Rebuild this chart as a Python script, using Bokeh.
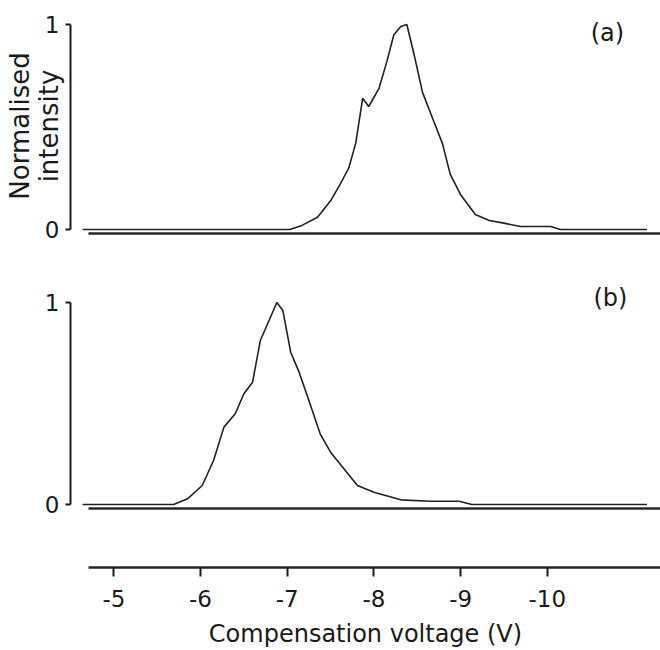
import numpy as np
from bokeh.plotting import figure
from bokeh.layouts import column
from bokeh.models import Range1d, FixedTicker, Label, LinearAxis
from bokeh.embed import file_html
from bokeh.resources import INLINE

# ---- data ----
x_a = [-4.64, -7.03, -7.17, -7.35, -7.50, -7.61, -7.71, -7.79, -7.87, -7.94,
       -8.06, -8.15, -8.23, -8.31, -8.38, -8.46, -8.56, -8.67, -8.79, -8.88,
       -9.00, -9.17, -9.33, -9.50, -9.69, -10.04, -10.15, -11.15]
y_a = [0.0, 0.0, 0.02, 0.06, 0.14, 0.22, 0.30, 0.42, 0.64, 0.60,
       0.69, 0.82, 0.95, 0.99, 1.0, 0.86, 0.67, 0.55, 0.42, 0.27,
       0.17, 0.073, 0.044, 0.031, 0.015, 0.015, 0.0, 0.0]

x_b = [-4.64, -5.69, -5.85, -6.02, -6.15, -6.27, -6.40, -6.50, -6.60, -6.69,
       -6.79, -6.88, -6.95, -7.04, -7.13, -7.25, -7.38, -7.50, -7.81, -8.00,
       -8.31, -8.65, -8.98, -9.13, -11.15]
y_b = [0.0, 0.0, 0.028, 0.094, 0.218, 0.383, 0.449, 0.548, 0.605, 0.812,
       0.911, 1.0, 0.96, 0.754, 0.663, 0.515, 0.35, 0.259, 0.094, 0.061,
       0.023, 0.016, 0.016, 0.0, 0.0]

x_ticks = [-5, -6, -7, -8, -9, -10]
y_ticks = [0, 1]
panel_labels = ["(a)", "(b)"]
x_title = "Compensation voltage (V)"
y_title_lines = ["Normalised", "intensity"]

# ---- styling / layout ----
X_START, X_END = -4.5, -11.306
AXIS_START = -4.708
FONT = "DejaVu Sans"
INK = "#1a1a1a"
W = 660


def base_fig(h, border_top, border_bottom, y0, y1):
    p = figure(width=W, height=h, x_range=Range1d(X_START, X_END),
               y_range=Range1d(y0, y1), output_backend="svg",
               toolbar_location=None, x_axis_location=None,
               y_axis_location=None, min_border_left=70, min_border_right=0,
               min_border_top=border_top, min_border_bottom=border_bottom)
    p.outline_line_color = None
    p.background_fill_color = "white"
    p.border_fill_color = "white"
    p.grid.visible = False
    return p


def add_y_bracket(p, title=None):
    ax = LinearAxis(ticker=FixedTicker(ticks=y_ticks), bounds=(0, 1),
                    major_tick_in=0, major_tick_out=5,
                    minor_tick_line_color=None,
                    axis_line_width=2, axis_line_color=INK,
                    major_tick_line_width=2, major_tick_line_color=INK,
                    major_label_text_font=FONT,
                    major_label_text_font_size="23px",
                    major_label_text_color=INK,
                    major_label_standoff=6)
    if title:
        ax.axis_label = title
        ax.axis_label_text_font = FONT
        ax.axis_label_text_font_size = "26px"
        ax.axis_label_text_font_style = "normal"
        ax.axis_label_text_color = INK
        ax.axis_label_text_line_height = 0.95
        ax.axis_label_text_align = "center"
        ax.axis_label_standoff = -22
    p.add_layout(ax, "left")


def add_base_line(p):
    ax = LinearAxis(ticker=FixedTicker(ticks=[]), bounds=(X_END, AXIS_START),
                    major_tick_line_color=None, minor_tick_line_color=None,
                    major_label_text_font_size="0px",
                    axis_line_width=2.6, axis_line_color="#262626")
    p.add_layout(ax, "below")


def panel(h, top, frame_bottom, zero_px, one_px, xs, ys, tag, tag_px,
          title=None):
    # all pixel values are relative to the top of this figure
    scale = zero_px - one_px
    y0 = -(frame_bottom - zero_px) / scale
    y1 = (zero_px - top) / scale
    p = base_fig(h, top, h - frame_bottom, y0, y1)
    add_y_bracket(p, title)
    add_base_line(p)
    p.line(xs, ys, line_color="#202020", line_width=1.6)
    tx, ty = tag_px
    p.add_layout(Label(x=-5 - (tx - 113.3) / 86.7, y=(zero_px - ty) / scale,
                       text=tag, text_align="center", text_baseline="middle",
                       text_font=FONT, text_font_size="24px",
                       text_color=INK))
    return p


pA = panel(250, 18, 233, 229, 24, x_a, y_a, panel_labels[0], (607, 32),
           title="\n".join(y_title_lines))
pB = panel(270, 0, 258, 254, 52, x_b, y_b, panel_labels[1], (610, 47))

# x axis panel
pC = base_fig(130, 0, 82, 0, 1)
xa = LinearAxis(ticker=FixedTicker(ticks=x_ticks), bounds=(X_END, AXIS_START),
                major_tick_in=0, major_tick_out=9, minor_tick_line_color=None,
                major_label_overrides={t: str(t) for t in x_ticks},
                axis_line_width=2.6, axis_line_color="#262626",
                major_tick_line_width=2, major_tick_line_color=INK,
                major_label_text_font=FONT, major_label_text_font_size="23px",
                major_label_text_color=INK, major_label_standoff=13,
                axis_label=x_title, axis_label_text_font=FONT,
                axis_label_text_font_size="24px",
                axis_label_text_font_style="normal",
                axis_label_text_color=INK, axis_label_standoff=10)
pC.add_layout(xa, "below")

layout = column(pA, pB, pC, spacing=0)
open("out.html", "w").write(file_html(layout, INLINE))
